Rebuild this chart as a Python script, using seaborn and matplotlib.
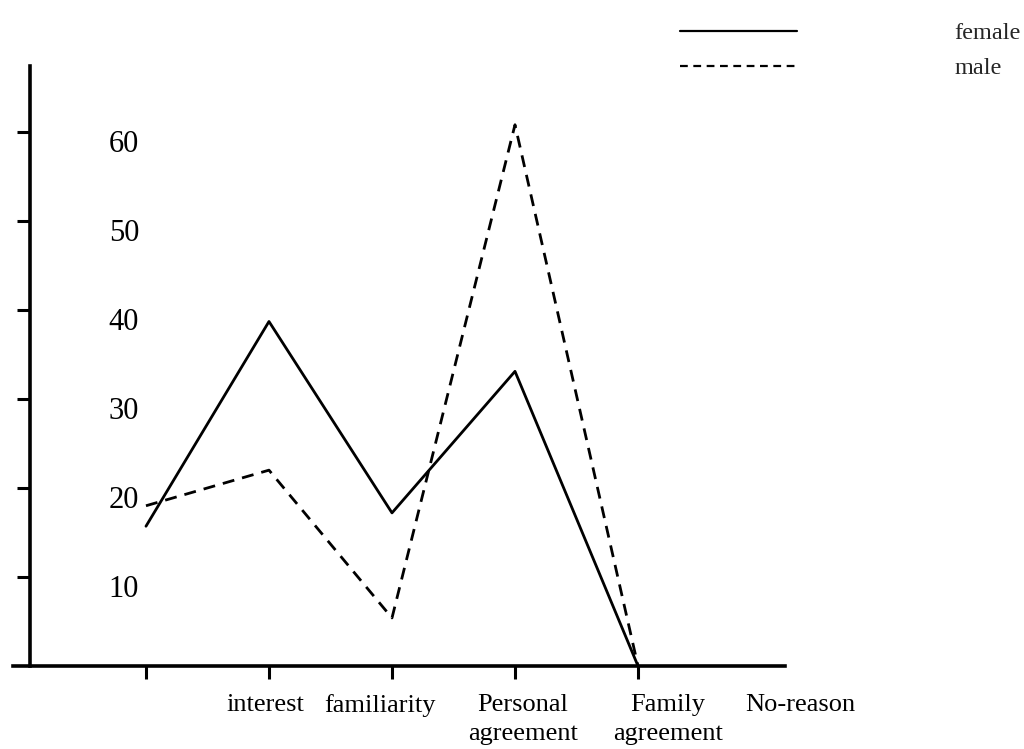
import numpy as np
import pandas as pd
import matplotlib
matplotlib.use("Agg")
import matplotlib.pyplot as plt
import seaborn as sns
from matplotlib.lines import Line2D
from matplotlib.transforms import ScaledTranslation

# Values
categories = ["", "interest", "familiarity", "Personal\nagreement", "Family\nagreement", "No-reason"]
female = [15.7, 38.7, 17.2, 33.1, 0.0, np.nan]
male = [18.0, 22.0, 5.4, 60.8, 0.0, np.nan]
y_ticks = [10, 20, 30, 40, 50, 60]

# Long-form table for seaborn
n = len(categories)
df = pd.DataFrame({
    "pos": list(range(n)) * 2,
    "value": female + male,
    "sex": ["female"] * n + ["male"] * n,
}).dropna()

sns.set_style("white")
plt.rcParams["font.family"] = ["Liberation Serif", "DejaVu Serif"]

fig = plt.figure(figsize=(10.24, 7.49), dpi=100)
ax = fig.add_axes([13 / 1024, 83 / 749, 772 / 1024, 600 / 749])

sns.lineplot(data=df, x="pos", y="value", style="sex", color="black",
             dashes={"female": "", "male": (4.3, 2.9)}, linewidth=2.0,
             legend=False, errorbar=None, ax=ax)

ax.set_xlim(-1.081, 5.195)
ax.set_ylim(0, 67.4)
ax.set_xlabel("")
ax.set_ylabel("")

# axis lines like the hand-drawn original
for side in ["top", "right"]:
    ax.spines[side].set_visible(False)
for side in ["left", "bottom"]:
    ax.spines[side].set_linewidth(2.6)
    ax.spines[side].set_color("black")
ax.spines["left"].set_position(("data", -0.943))

ax.set_xticks(range(n))
ax.set_xticklabels(categories, fontsize=19, linespacing=1.42)
ax.set_yticks(y_ticks)
ax.set_yticklabels([str(t) for t in y_ticks], fontsize=22)
ax.tick_params(axis="x", bottom=True, direction="out", length=9, width=2.2,
               pad=11, colors="black")
ax.tick_params(axis="y", left=True, direction="out", length=9.4, width=2.2,
               pad=-88, colors="black")
ax.xaxis.get_major_ticks()[-1].tick1line.set_visible(False)

# small nudges so labels sit where the scan has them
label_nudge_px = [0, -4, -12, 8, 30, 39]
for lab, dx in zip(ax.get_xticklabels(), label_nudge_px):
    lab.set_transform(lab.get_transform() + ScaledTranslation(dx / 100, 0, fig.dpi_scale_trans))
for lab in ax.get_yticklabels():
    lab.set_transform(lab.get_transform() + ScaledTranslation(0, -9 / 100, fig.dpi_scale_trans))

# legend top right
handles = [Line2D([], [], color="black", lw=1.6),
           Line2D([], [], color="black", lw=1.6, dashes=(3.5, 2.5))]
fig.legend(handles, ["female", "male"], loc="upper left",
           bbox_to_anchor=(680 / 1024, 1 - 22 / 749), frameon=False,
           fontsize=17.5, handlelength=4.8, handletextpad=6.5,
           labelspacing=0.55, borderpad=0, borderaxespad=0)

fig.savefig("out.png", dpi=100)
